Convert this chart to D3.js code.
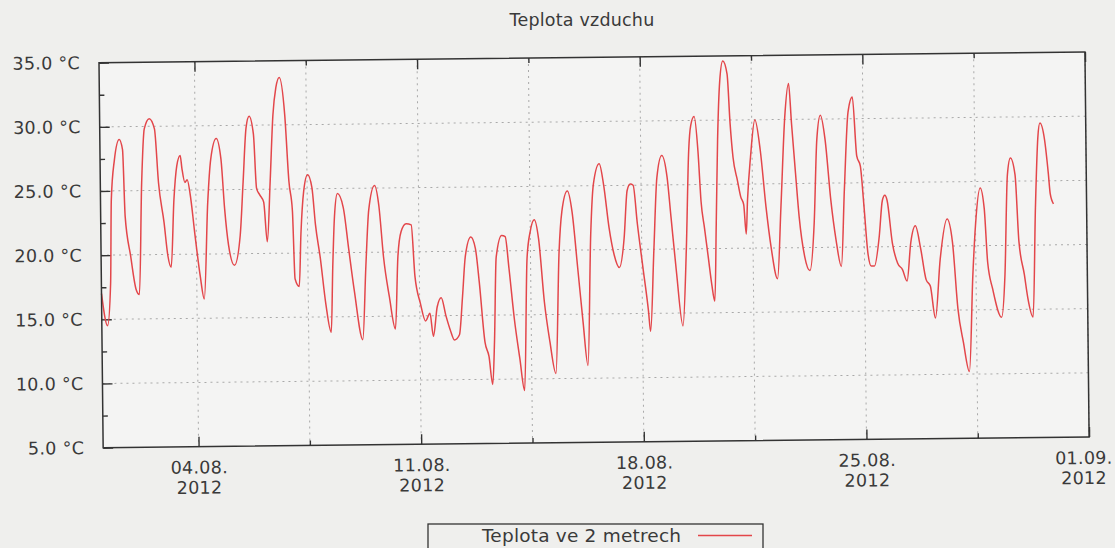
<!DOCTYPE html>
<html><head><meta charset="utf-8">
<script src="https://cdn.jsdelivr.net/npm/d3@7"></script>
<style>
html,body{margin:0;padding:0;background:#efefed;overflow:hidden;}
svg{display:block;font-family:"DejaVu Sans",sans-serif;}
</style></head><body>
<svg id="c" width="1115" height="548"></svg>
<script>
// ---- data ----
const chartTitle = "Teplota vzduchu";
const seriesName = "Teplota ve 2 metrech";
const startDate = "2012-08-01T00:00:00Z";
const endDate = "2012-09-01T00:00:00Z";
// days since 01.08.2012 00:00
const dayOffsets = [0.00,0.18,0.29,0.34,0.45,0.61,0.71,0.77,0.93,1.09,1.19,1.30,1.40,1.56,1.72,1.83,1.99,2.10,2.20,2.31,2.41,2.52,2.57,2.66,2.73,2.84,2.95,3.11,3.23,3.37,3.48,3.66,3.80,3.90,4.01,4.19,4.38,4.49,4.60,4.70,4.83,4.91,5.00,5.13,5.23,5.34,5.45,5.55,5.66,5.82,5.93,6.03,6.09,6.22,6.29,6.39,6.52,6.65,6.75,6.89,7.05,7.21,7.28,7.35,7.45,7.63,7.79,7.95,8.20,8.32,8.43,8.62,8.75,8.88,9.05,9.23,9.33,9.44,9.60,9.76,9.86,10.02,10.18,10.32,10.42,10.55,10.68,10.82,10.95,11.08,11.24,11.35,11.45,11.63,11.77,11.88,12.04,12.16,12.27,12.34,12.42,12.60,12.71,12.82,12.97,13.13,13.27,13.39,13.50,13.63,13.76,13.92,14.08,14.26,14.40,14.50,14.68,14.82,14.98,15.13,15.27,15.40,15.50,15.69,15.82,15.98,16.13,16.29,16.45,16.56,16.66,16.75,16.87,17.03,17.19,17.25,17.38,17.50,17.66,17.82,17.93,18.08,18.27,18.40,18.51,18.58,18.69,18.80,18.88,18.98,19.09,19.19,19.28,19.35,19.42,19.51,19.61,19.74,19.82,19.90,20.03,20.13,20.22,20.29,20.34,20.45,20.60,20.76,20.92,21.07,21.26,21.39,21.54,21.67,21.75,21.86,21.96,22.12,22.28,22.43,22.54,22.66,22.80,22.96,23.11,23.27,23.39,23.53,23.67,23.79,23.90,24.00,24.11,24.21,24.31,24.47,24.58,24.66,24.73,24.88,25.04,25.19,25.33,25.46,25.61,25.77,25.93,26.06,26.21,26.38,26.61,26.77,26.92,27.08,27.26,27.40,27.50,27.66,27.78,27.87,28.02,28.29,28.41,28.52,28.62,28.76,28.86,29.02,29.12,29.28,29.39,29.49,29.56,29.70,29.81,29.86,29.96];
const temps = [17.0,14.5,17.8,24.3,27.4,29.0,28.2,23.0,19.9,17.3,16.9,25.6,29.8,30.6,29.8,25.6,22.5,19.9,19.0,24.3,26.9,27.7,26.7,25.6,25.8,24.3,21.7,18.3,16.5,24.0,27.4,29.0,27.4,23.5,20.7,19.1,21.4,25.6,29.8,30.7,29.3,25.1,24.6,24.0,20.9,25.6,30.8,32.9,33.7,30.8,25.6,23.3,18.0,17.4,21.5,24.8,26.1,25.1,22.2,19.6,16.0,13.8,18.9,22.8,24.6,23.5,20.2,17.0,13.2,18.9,23.3,25.2,23.6,19.6,16.5,14.0,19.6,21.6,22.2,22.1,18.1,16.0,14.6,15.2,13.4,15.7,16.4,15.0,13.9,13.1,13.5,16.5,19.6,21.1,20.2,17.6,12.9,11.8,9.6,13.0,19.5,21.2,21.1,18.6,14.7,11.6,9.1,19.4,21.5,22.4,20.9,16.0,12.9,10.4,19.9,23.0,24.6,23.0,18.6,14.4,11.0,21.2,25.1,26.7,25.1,21.7,19.6,18.6,20.9,24.6,25.1,25.0,22.0,18.6,15.2,13.6,19.9,25.6,27.3,25.6,22.5,18.3,14.0,19.9,27.7,29.6,30.3,27.6,23.7,21.6,19.3,17.2,15.9,21.9,28.4,33.1,34.6,33.6,29.7,27.1,25.3,24.0,23.4,21.1,23.7,27.1,30.0,27.6,23.2,20.0,17.6,23.2,30.2,32.8,29.7,25.8,22.4,19.3,18.2,21.9,28.4,30.3,28.4,23.7,20.6,18.5,24.5,30.5,31.7,27.1,26.3,23.2,19.5,18.5,18.5,20.8,23.6,24.0,23.6,20.3,18.7,18.2,17.3,20.3,21.6,19.8,17.4,16.9,14.4,19.0,22.1,20.3,15.1,12.5,10.2,17.7,21.6,24.5,22.9,18.7,16.6,14.4,17.7,25.5,26.8,25.5,20.3,17.7,15.9,14.4,22.9,28.4,29.5,28.2,25.5,24.0,23.2];
const yMajorTicks = [5,10,15,20,25,30,35];
const yMinorTicks = [7.5,12.5,17.5,22.5,27.5,32.5];
const xMajorTickDates = ["2012-08-04T00:00:00Z","2012-08-11T00:00:00Z","2012-08-18T00:00:00Z","2012-08-25T00:00:00Z","2012-09-01T00:00:00Z"];
const xMajorTickLabels = [["04.08.","2012"],["11.08.","2012"],["18.08.","2012"],["25.08.","2012"],["01.09.","2012"]];
const xMinorTickDates = ["2012-08-07T12:00:00Z","2012-08-14T12:00:00Z","2012-08-21T12:00:00Z","2012-08-28T12:00:00Z"];

// ---- layout ----
const W = 1115, H = 548;
const plotL = 99, plotT = 62.7, plotW = 986, plotH = 385;
const tilt = -0.62;
const textColor = "#3a3a3a";
const lineColor = "#e3464a";
const fontSize = 17.5;

const svg = d3.select("#c");
svg.append("rect").attr("width", W).attr("height", H).attr("fill", "#efefed");

const t0 = new Date(startDate), t1 = new Date(endDate);
const x = d3.scaleUtc().domain([t0, t1]).range([0, plotW]);
const y = d3.scaleLinear().domain([5, 35]).range([plotH, 0]);

const g = svg.append("g")
  .attr("transform", `translate(${plotL},${plotT}) rotate(${tilt})`);

g.append("rect").attr("width", plotW).attr("height", plotH).attr("fill", "#f4f4f3");

// grid
const allXTicks = xMajorTickDates.concat(xMinorTickDates).map(s => new Date(s));
g.append("g").selectAll("line").data(allXTicks).join("line")
  .attr("x1", d => x(d)).attr("x2", d => x(d)).attr("y1", 0).attr("y2", plotH)
  .attr("stroke", "#a9a9a9").attr("stroke-width", 1).attr("stroke-dasharray", "2,4");
g.append("g").selectAll("line").data(yMajorTicks.filter(v => v > 5 && v < 35)).join("line")
  .attr("x1", 0).attr("x2", plotW).attr("y1", d => y(d)).attr("y2", d => y(d))
  .attr("stroke", "#a9a9a9").attr("stroke-width", 1).attr("stroke-dasharray", "2,4");

function styleAxis(sel) {
  sel.select(".domain").remove();
  sel.selectAll(".tick line").attr("stroke", "#333").attr("stroke-width", 1.4);
  sel.selectAll("text").attr("fill", textColor).attr("font-size", fontSize)
    .attr("font-family", "DejaVu Sans, sans-serif").attr("letter-spacing", 0.3);
}

// left axis
g.append("g").call(d3.axisLeft(y).tickValues(yMajorTicks).tickSize(-10).tickPadding(19)
  .tickFormat(d => d3.format(".1f")(d) + " \u00B0C")).call(styleAxis);
g.append("g").call(d3.axisLeft(y).tickValues(yMinorTicks).tickSize(-5).tickFormat("")).call(styleAxis);

// bottom axis
const bottom = g.append("g").attr("transform", `translate(0,${plotH})`)
  .call(d3.axisBottom(x).tickValues(xMajorTickDates.map(s => new Date(s))).tickSize(-10).tickPadding(14.5)
    .tickFormat(""));
bottom.call(styleAxis);
const nLab = xMajorTickLabels.length;
bottom.selectAll(".tick text").each(function(d, i) {
  const t = d3.select(this);
  const shift = i === nLab - 1 ? -6 : 0;
  xMajorTickLabels[i].forEach((s, k) => {
    t.append("tspan").attr("x", shift).attr("dy", k === 0 ? "0.71em" : "1.15em").text(s);
  });
}).attr("dy", null);
g.append("g").attr("transform", `translate(0,${plotH})`)
  .call(d3.axisBottom(x).tickValues(xMinorTickDates.map(s => new Date(s))).tickSize(-5).tickFormat(""))
  .call(styleAxis);

// top axis
g.append("g").call(d3.axisTop(x).tickValues(xMajorTickDates.map(s => new Date(s))).tickSize(-10).tickFormat(""))
  .call(styleAxis);
g.append("g").call(d3.axisTop(x).tickValues(xMinorTickDates.map(s => new Date(s))).tickSize(-5).tickFormat(""))
  .call(styleAxis);

// series line
const series = dayOffsets.map((d, i) => ({ date: d3.utcMinute.offset(t0, Math.round(d * 1440)), t: temps[i] }));
g.append("path").datum(series)
  .attr("fill", "none").attr("stroke", lineColor).attr("stroke-width", 1.5)
  .attr("stroke-linejoin", "round")
  .attr("d", d3.line().curve(d3.curveMonotoneX).x(d => x(d.date)).y(d => y(d.t)));

// frame
g.append("rect").attr("width", plotW).attr("height", plotH)
  .attr("fill", "none").attr("stroke", "#333").attr("stroke-width", 1.5);

// title
svg.append("text").attr("x", 582).attr("y", 26).attr("text-anchor", "middle")
  .attr("font-size", fontSize).attr("letter-spacing", 0.2).attr("fill", textColor).text(chartTitle);

// legend
const lg = svg.append("g");
lg.append("rect").attr("x", 428).attr("y", 524).attr("width", 335).attr("height", 40)
  .attr("fill", "none").attr("stroke", "#333").attr("stroke-width", 1.3);
lg.append("text").attr("x", 482).attr("y", 542).attr("font-size", 18.5).attr("letter-spacing", 0.2)
  .attr("fill", textColor).text(seriesName);
lg.append("line").attr("x1", 698).attr("x2", 752).attr("y1", 535.5).attr("y2", 535.5)
  .attr("stroke", lineColor).attr("stroke-width", 1.5);
</script>
</body></html>
